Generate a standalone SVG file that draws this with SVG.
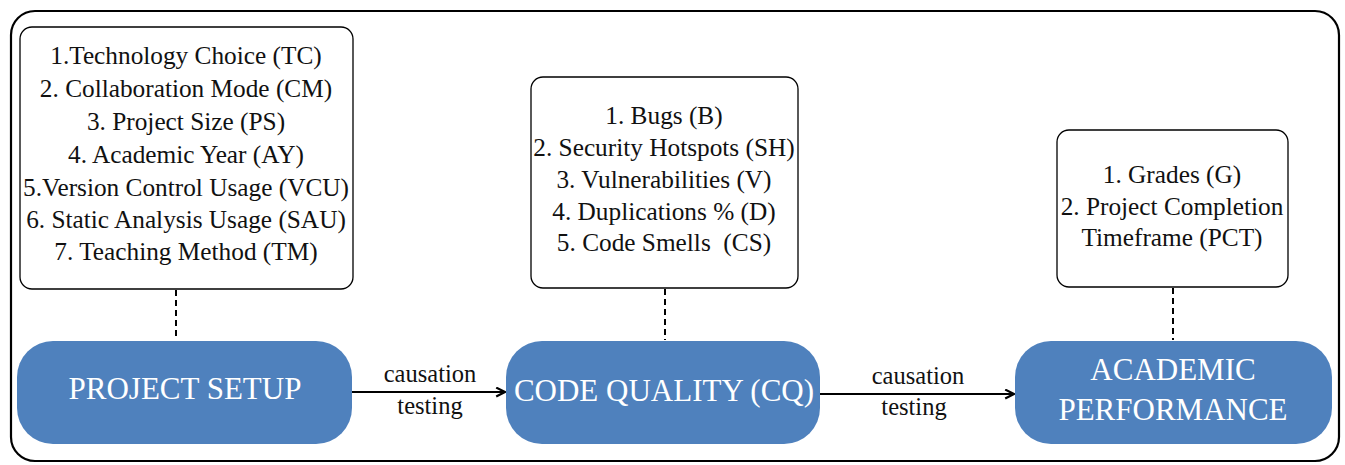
<svg xmlns="http://www.w3.org/2000/svg" width="1345" height="465" viewBox="0 0 1345 465">
<defs>
<marker id="ah" viewBox="0 0 10 10" refX="9" refY="5" markerWidth="5" markerHeight="5" orient="auto" markerUnits="strokeWidth">
<path d="M1,1 L9,5 L1,9" fill="none" stroke="#000" stroke-width="2"/>
</marker>
</defs>
<rect x="11" y="11" width="1328" height="450" rx="24" fill="none" stroke="#000" stroke-width="2.2"/>
<g id="factors">
<rect x="20" y="27" width="333" height="262" rx="12" fill="#fff" stroke="#000" stroke-width="1.3"/>
<g font-family="Liberation Serif" font-size="25.3" fill="#111" text-anchor="middle">
<text x="186" y="64">1.Technology Choice (TC)</text>
<text x="186" y="97">2. Collaboration Mode (CM)</text>
<text x="186" y="130">3. Project Size (PS)</text>
<text x="186" y="163">4. Academic Year (AY)</text>
<text x="186" y="196">5.Version Control Usage (VCU)</text>
<text x="186" y="228">6. Static Analysis Usage (SAU)</text>
<text x="186" y="260">7. Teaching Method (TM)</text>
</g>
</g>
<g id="metrics">
<rect x="531" y="77" width="267" height="211" rx="12" fill="#fff" stroke="#000" stroke-width="1.3"/>
<g font-family="Liberation Serif" font-size="25.3" fill="#111" text-anchor="middle">
<text x="664" y="124">1. Bugs (B)</text>
<text x="664" y="156">2. Security Hotspots (SH)</text>
<text x="664" y="188">3. Vulnerabilities (V)</text>
<text x="664" y="220">4. Duplications % (D)</text>
<text x="664" y="251" xml:space="preserve">5. Code Smells  (CS)</text>
</g>
</g>
<g id="outcomes">
<rect x="1057" y="130" width="231" height="157" rx="12" fill="#fff" stroke="#000" stroke-width="1.3"/>
<g font-family="Liberation Serif" font-size="25.3" fill="#111" text-anchor="middle">
<text x="1172" y="183">1. Grades (G)</text>
<text x="1172" y="215">2. Project Completion</text>
<text x="1172" y="246">Timeframe (PCT)</text>
</g>
</g>
<g id="setup">
<rect x="17" y="341" width="335" height="103" rx="36" fill="#4F81BD"/>
<text x="185" y="399" font-family="Liberation Serif" font-size="31" fill="#fff" text-anchor="middle">PROJECT SETUP</text>
</g>
<g id="quality">
<rect x="506" y="341" width="314" height="103" rx="36" fill="#4F81BD"/>
<text x="664" y="401" font-family="Liberation Serif" font-size="31" fill="#fff" text-anchor="middle">CODE QUALITY (CQ)</text>
</g>
<g id="performance">
<rect x="1015" y="341" width="317" height="103" rx="36" fill="#4F81BD"/>
<g font-family="Liberation Serif" font-size="31" fill="#fff" text-anchor="middle">
<text x="1173" y="380">ACADEMIC</text>
<text x="1173" y="420">PERFORMANCE</text>
</g>
</g>
<g id="connectors">
<g stroke="#000" stroke-width="2" stroke-dasharray="6,4" fill="none">
<line x1="176" y1="290" x2="176" y2="340"/>
<line x1="665" y1="289" x2="665" y2="340"/>
<line x1="1173" y1="288" x2="1173" y2="340"/>
</g>
<g stroke="#000" stroke-width="2.2" fill="none" marker-end="url(#ah)">
<line x1="352" y1="392" x2="505" y2="392"/>
<line x1="820" y1="394" x2="1014" y2="394"/>
</g>
<g font-family="Liberation Serif" font-size="24.5" fill="#111" text-anchor="middle">
<text x="430" y="382">causation</text>
<text x="430" y="414">testing</text>
<text x="918" y="384">causation</text>
<text x="914" y="415">testing</text>
</g>
</g>
</svg>
